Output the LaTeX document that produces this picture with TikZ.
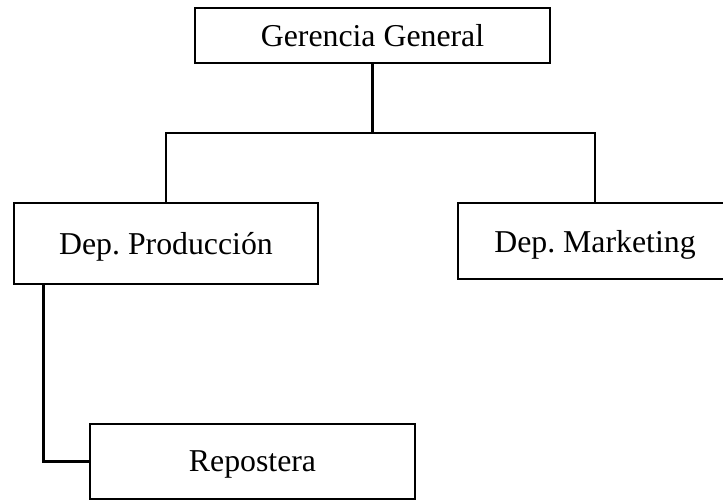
\documentclass[tikz,border=0pt]{standalone}
\usepackage{fontspec}
\setmainfont{Liberation Serif}
\frenchspacing
\begin{document}
\begin{tikzpicture}[x=0.5pt,y=-0.5pt,line width=1.3pt,line join=miter,
    unit/.style={draw,inner sep=0pt,text depth=0pt,font=\fontsize{15.9}{19}\selectfont}]
  \useasboundingbox (0,0) rectangle (723,501);
  \clip (0,0) rectangle (723,501);
  % the boxes
  \node [unit,minimum width=177.5pt,minimum height=27.5pt] (ger) at (372.5,35.5) {Gerencia General};
  \node [unit,minimum width=152pt,minimum height=40.5pt] (prod) at (166,243.5) {Dep. Producci\'on};
  \node [unit,minimum width=137pt,minimum height=38pt] (mkt) at (595,241) {Dep. Marketing};
  \node [unit,minimum width=162.5pt,minimum height=37.5pt] (rep) at (252.5,461.5) {Repostera};
  % the lines
  \coordinate (split) at (372.5,133);
  \draw (ger.south) -- (split);
  \draw (prod.north) |- (split) -| (mkt.north);
  \draw (prod.south west) ++(31,0) |- (rep.west);
\end{tikzpicture}
\end{document}
